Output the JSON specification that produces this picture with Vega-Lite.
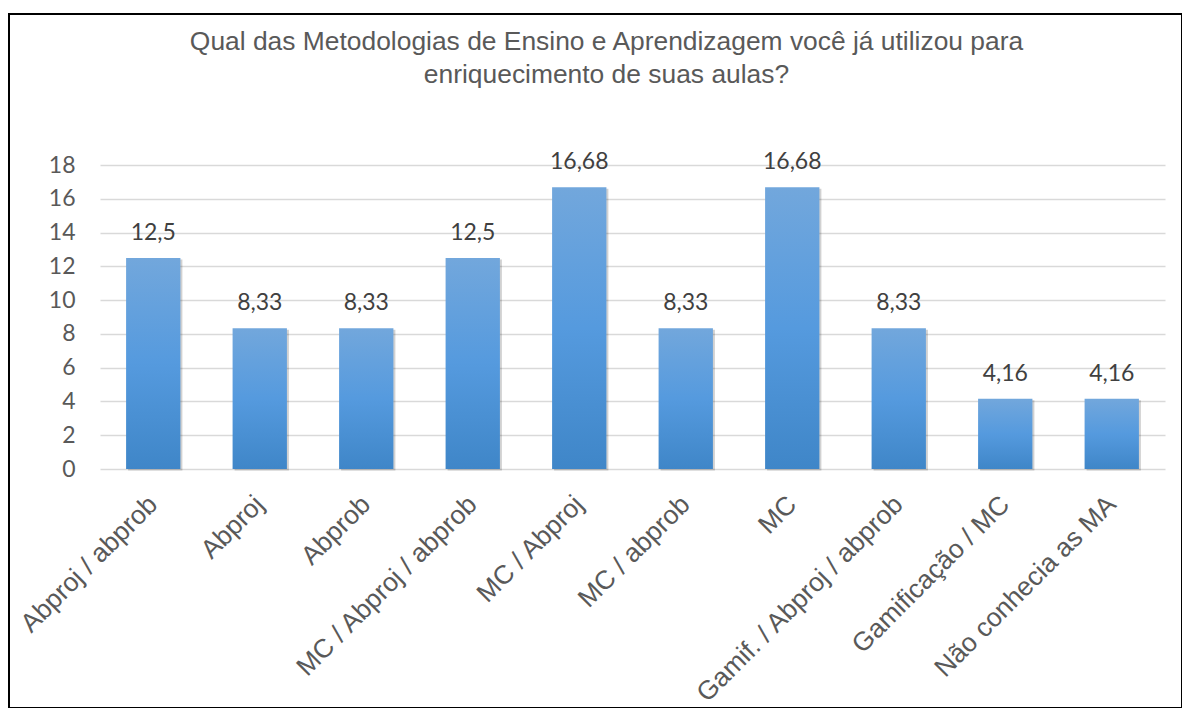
{
  "$schema": "https://vega.github.io/schema/vega-lite/v6.json",
  "width": 1173,
  "height": 694,
  "autosize": "none",
  "padding": {"left": 9, "top": 14, "right": 0, "bottom": 0},
  "background": "white",
  "title": {
    "text": ["Qual das Metodologias de Ensino e Aprendizagem você já utilizou para", "enriquecimento de suas aulas?"],
    "font": "Liberation Sans",
    "fontSize": 26.4,
    "fontWeight": "normal",
    "color": "#595959",
    "lineHeight": 33,
    "baseline": "alphabetic",
    "anchor": "middle",
    "frame": "group",
    "offset": -95,
    "dx": 11
  },
  "data": {
    "values": [
      {"cat": "Abproj / abprob", "v": 12.5, "label": "12,5"},
      {"cat": "Abproj", "v": 8.33, "label": "8,33"},
      {"cat": "Abprob", "v": 8.33, "label": "8,33"},
      {"cat": "MC / Abproj / abprob", "v": 12.5, "label": "12,5"},
      {"cat": "MC / Abproj", "v": 16.68, "label": "16,68"},
      {"cat": "MC / abprob", "v": 8.33, "label": "8,33"},
      {"cat": "MC", "v": 16.68, "label": "16,68"},
      {"cat": "Gamif. / Abproj / abprob", "v": 8.33, "label": "8,33"},
      {"cat": "Gamificação / MC", "v": 4.16, "label": "4,16"},
      {"cat": "Não conhecia as MA", "v": 4.16, "label": "4,16"}
    ]
  },
  "encoding": {
    "x": {
      "field": "cat",
      "type": "nominal",
      "sort": null,
      "scale": {"range": [91, 1156], "paddingInner": 0.49, "paddingOuter": 0.245},
      "axis": {
        "title": null,
        "orient": "bottom",
        "offset": -239,
        "domain": false,
        "ticks": false,
        "grid": false,
        "labelAngle": -45,
        "labelAlign": "right",
        "labelBaseline": "middle",
        "labelPadding": 31,
        "labelFont": "Liberation Sans",
        "labelFontSize": 26.4,
        "labelColor": "#595959",
        "labelLimit": 0
      }
    },
    "y": {
      "field": "v",
      "type": "quantitative",
      "scale": {"domain": [0, 18], "range": [455, 151], "nice": false, "zero": true},
      "axis": {
        "title": null,
        "orient": "left",
        "offset": -91,
        "values": [0, 2, 4, 6, 8, 10, 12, 14, 16, 18],
        "domain": false,
        "ticks": false,
        "grid": true,
        "gridColor": "#d9d9d9",
        "gridWidth": 1.5,
        "labelPadding": 25,
        "labelFont": "Lato",
        "labelFontSize": 23,
        "labelColor": "#595959"
      }
    }
  },
  "layer": [
    {
      "mark": {"type": "bar", "color": "#000000", "opacity": 0.18, "xOffset": 2, "yOffset": 1.5}
    },
    {
      "mark": {
        "type": "bar",
        "color": {
          "gradient": "linear",
          "x1": 0, "y1": 0, "x2": 0, "y2": 1,
          "stops": [
            {"offset": 0, "color": "#72a7dc"},
            {"offset": 0.5, "color": "#559ade"},
            {"offset": 1, "color": "#3f86c8"}
          ]
        }
      }
    },
    {
      "mark": {"type": "text", "baseline": "alphabetic", "dy": -18, "font": "Lato", "fontSize": 23, "color": "#404040"},
      "encoding": {"text": {"field": "label"}}
    }
  ],
  "config": {
    "view": {"stroke": "#000000", "strokeWidth": 2}
  }
}
